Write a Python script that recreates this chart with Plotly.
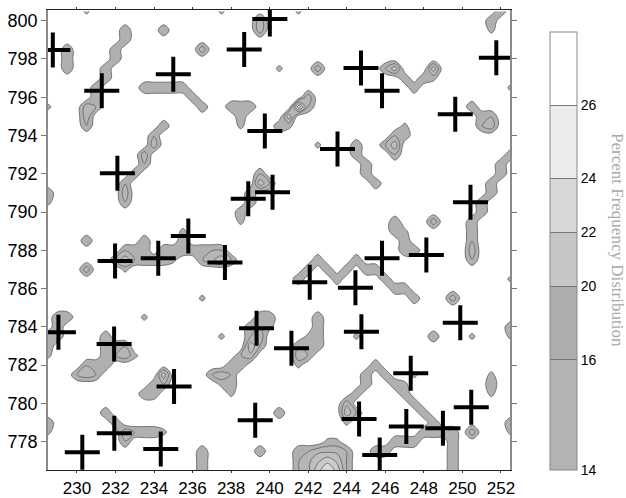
import numpy as np
import plotly.graph_objects as go

x_grid = np.arange(228.5, 252.51, 0.5)          # 49 columns
y_grid = np.arange(800.5, 776.49, -0.5)         # 49 rows, top to bottom

level_code = {'0': 14.6, '1': 15.9, '2': 17.5, '3': 19.5, '4': 21.5, '5': 23.5, '6': 25.5}
background_level = 12.6

# row index -> "column:code" cells of the shaded blobs
field_rows = {
    0: "4:0 18:0 26:0 47:1",
    1: "22:2 46:1",
    2: "8:1 12:1 22:2 46:0",
    3: "8:1",
    4: "2:1 7:1 16:2",
    5: "2:1 7:1",
    6: "2:1 6:1 24:0 28:2 35:1 36:3 40:3",
    7: "6:1 37:1 39:1 40:0",
    8: "5:1 10:1 11:1 12:1 13:1 14:1 38:1 48:0",
    9: "5:1 15:1 27:2",
    10: "0:0 4:2 5:1 16:1 19:1 20:1 21:1 26:5 27:1 44:1",
    11: "4:2 20:1 25:3 45:1 46:1",
    12: "4:1 12:1 20:0 24:1 25:0 37:0 45:1 46:2",
    13: "11:1 36:1 37:1",
    14: "11:2 28:0 32:1 35:1 36:3",
    15: "10:2 32:1 36:1 48:1",
    16: "10:1 33:1 47:1",
    17: "9:1 22:1 33:1 47:1",
    18: "8:1 22:3 23:1 34:1 46:1",
    19: "0:1 8:2 21:1 46:1",
    20: "0:0 8:1 21:1 45:1",
    21: "20:1 45:1",
    22: "20:0 36:1 40:2 44:1",
    23: "14:0 36:1 37:0 44:1",
    24: "4:1 10:1 14:1 37:1 44:1",
    25: "8:1 9:1 10:1 12:1 13:1 14:1 15:1 16:1 17:1 18:1 37:1 38:1 44:2",
    26: "7:1 8:3 9:1 10:1 11:1 12:1 13:0 16:1 17:2 18:3 19:1 28:1 32:1 44:1",
    27: "4:2 8:0 27:1 29:1 31:1 33:1 34:1",
    28: "26:1 30:1 35:1 48:0",
    29: "36:1 37:1",
    30: "16:0 38:1 42:2",
    31: "",
    32: "1:1 2:1 10:0 22:1 23:1 28:1",
    33: "1:1 21:1 22:1 23:0 28:1 48:1",
    34: "0:1 1:1 6:1 18:0 21:1 22:2 27:0 28:1 32:0 40:1 44:0 48:0",
    35: "0:1 6:1 7:1 8:1 21:3 22:1 26:1 27:1 28:1",
    36: "0:0 6:1 7:1 8:2 9:0 20:1 21:2 26:2 27:1",
    37: "4:1 5:1 6:1 19:1 20:1 26:0 34:1",
    38: "3:1 4:2 5:1 12:3 17:1 18:2 19:1 33:1 35:1 38:0 46:0",
    39: "11:1 12:1 18:0 19:1 33:1 36:1 37:0 46:1",
    40: "10:1 11:1 19:0 32:1 37:1 46:0",
    41: "31:2 38:1",
    42: "6:1 24:1 31:3 32:1 39:1",
    43: "0:1 7:1 31:0 40:1 48:1",
    44: "0:0 8:2 9:1 10:1 11:1 12:0 39:1 40:1 41:1 42:1 44:2 48:0",
    45: "8:1 29:0 30:0 36:1 37:1 38:1 42:1",
    46: "16:1 22:1 26:1 27:1 28:2 29:2 30:2 31:1 34:1 35:1 42:1",
    47: "16:1 26:1 27:2 28:3 29:4 30:3 31:1 42:1",
    48: "16:1 26:1 27:2 28:4 29:5 30:4 31:1 42:1",
}

# ---- station crosses ----
cross_x = [228.75, 231.29, 235.00, 232.10, 235.78, 240.01, 238.68, 244.74, 245.83, 251.76,
           249.63, 239.75, 243.52, 238.89, 240.15, 250.42, 231.98, 234.22, 229.04, 231.93,
           235.04, 231.94, 230.28, 234.35, 237.68, 242.08, 244.45, 245.83, 248.13, 239.32,
           241.13, 244.76, 249.89, 247.32, 239.25, 244.64, 247.09, 248.99, 250.46, 245.71]
cross_y = [798.47, 796.34, 797.20, 792.03, 788.75, 800.09, 798.50, 797.53, 796.34, 798.07,
           795.11, 794.24, 793.30, 790.70, 791.03, 790.51, 787.44, 787.58, 783.72, 783.11,
           780.88, 778.44, 777.45, 777.62, 787.36, 786.33, 786.05, 787.58, 787.76, 783.93,
           782.88, 783.75, 784.22, 781.58, 779.12, 779.19, 778.79, 778.70, 779.80, 777.31]

# ---- colour bar ----
cbar_title = 'Percent Frequency Distribution'
cbar_ticktext = ['14', '16', '20', '22', '24', '26']
cbar_tickpos = [0.0, 0.2525, 0.42, 0.544, 0.667, 0.834]
cbar_colors = ['#b3b3b3', '#adadad', '#c6c6c6', '#d8d8d8', '#ebebeb', '#ffffff']

# build z table
z = np.full((len(y_grid), len(x_grid)), background_level)
for r, cells in field_rows.items():
    for cell in cells.split():
        c, code = cell.split(':')
        z[r, int(c)] = level_code[code]

contour_scale = [[0 / 7, '#ffffff'], [1 / 7, '#b0b0b0'], [2 / 7, '#b6b6b6'], [3 / 7, '#bfbfbf'],
                 [4 / 7, '#cbcbcb'], [5 / 7, '#dadada'], [6 / 7, '#eaeaea'], [7 / 7, '#ffffff']]

cb_scale = []
bounds = cbar_tickpos + [1.0]
for k, col in enumerate(cbar_colors):
    cb_scale.append([bounds[k], col])
    cb_scale.append([bounds[k + 1], col])

fig = go.Figure()
fig.add_trace(go.Contour(
    x=x_grid, y=y_grid, z=z,
    autocontour=False,
    contours=dict(start=14, end=26, size=2, coloring='fill', showlines=True),
    line=dict(color='#6a6a6a', width=0.9),
    colorscale=contour_scale, showscale=False, hoverinfo='skip'))

fig.add_trace(go.Scatter(
    x=cross_x, y=cross_y, mode='markers',
    marker=dict(symbol='cross-thin', size=25, color='black',
                line=dict(color='black', width=4)),
    hoverinfo='skip', showlegend=False))

fig.add_trace(go.Scatter(
    x=[None], y=[None], mode='markers', showlegend=False, hoverinfo='skip',
    marker=dict(color=[0.5], colorscale=cb_scale, cmin=0, cmax=1, showscale=True,
                colorbar=dict(
                    x=1.0866, xanchor='left', xpad=0,
                    y=0.9515, yanchor='top', ypad=0,
                    len=438, lenmode='pixels', thickness=27,
                    outlinewidth=1, outlinecolor='#888888',
                    tickvals=cbar_tickpos, ticktext=cbar_ticktext,
                    ticks='inside', ticklen=27, tickcolor='#777777', tickwidth=1,
                    tickfont=dict(family='Liberation Sans, Arial', size=14, color='black'),
                ))))

fig.add_annotation(
    text=cbar_title, xref='paper', yref='paper', x=1.2338, y=0.50,
    xanchor='center', yanchor='middle', showarrow=False, textangle=90,
    font=dict(family='Liberation Serif, Times New Roman', size=17, color='#a8a8a8'))

fig.update_layout(
    width=626, height=498,
    margin=dict(l=48, r=116, t=10, b=28, autoexpand=False),
    plot_bgcolor='white', paper_bgcolor='white',
    showlegend=False,
    xaxis=dict(range=[228.5, 252.47], tickvals=list(range(230, 253, 2)),
               showgrid=False, zeroline=False, ticks='outside', ticklen=2,
               tickcolor='#333333', showline=True, linecolor='#222222', linewidth=1.3,
               mirror='ticks',
               tickfont=dict(family='Liberation Sans, Arial', size=17, color='black')),
    yaxis=dict(range=[776.52, 800.56], tickvals=list(range(778, 801, 2)),
               showgrid=False, zeroline=False, ticks='outside', ticklen=5,
               tickcolor='#777777', showline=True, linecolor='#8a8a8a', linewidth=1.5,
               mirror='ticks',
               tickfont=dict(family='Liberation Sans, Arial', size=18, color='black')),
)

fig.write_html("out.html")
